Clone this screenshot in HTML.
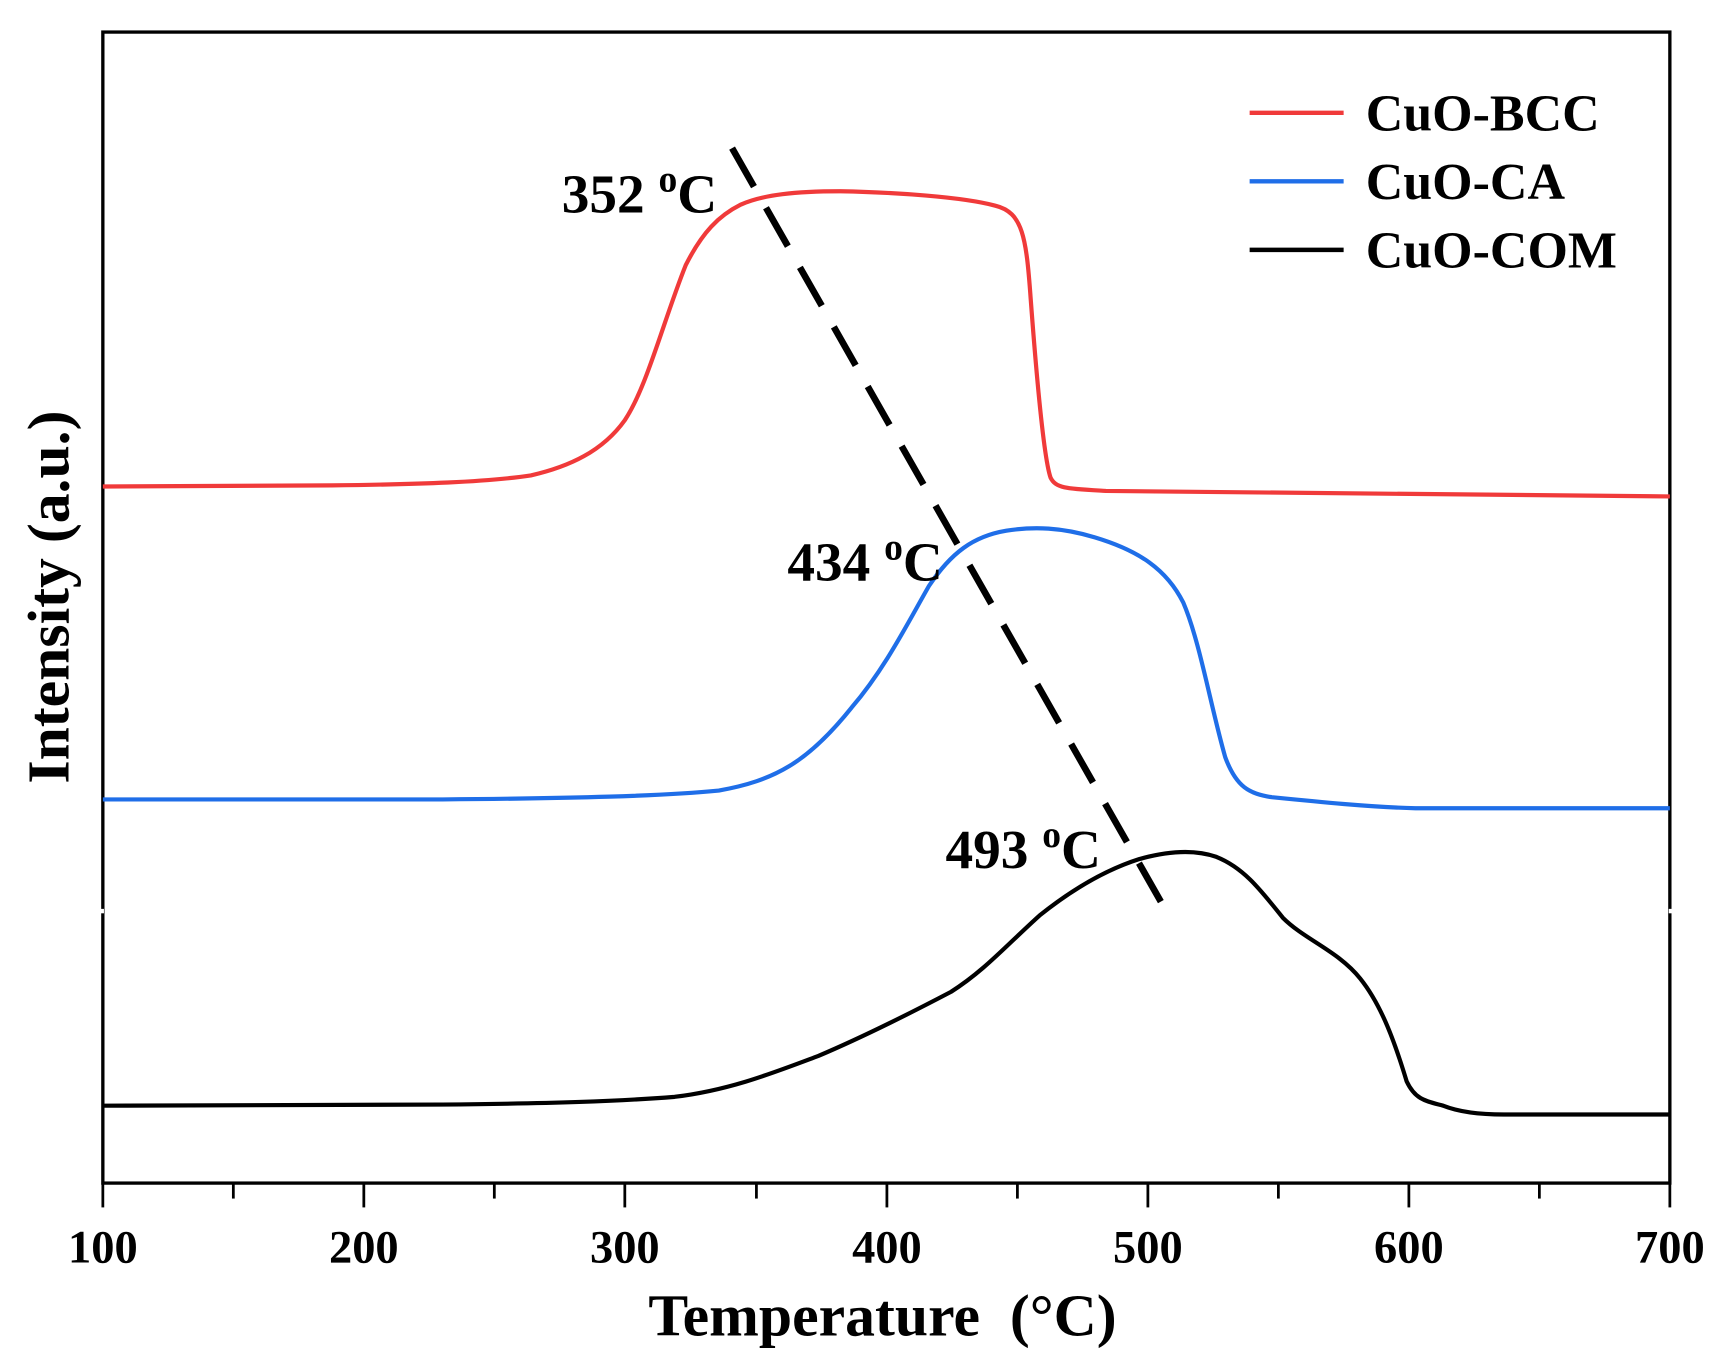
<!DOCTYPE html>
<html><head><meta charset="utf-8"><style>html,body{margin:0;padding:0;background:#fff}svg{display:block}</style></head>
<body>
<svg width="1734" height="1360" viewBox="0 0 1568 1230" preserveAspectRatio="none" xmlns="http://www.w3.org/2000/svg" font-family="'Liberation Serif',serif" font-weight="bold">
<rect width="1568" height="1230" fill="#fff"/>
<rect x="93" y="29" width="1417" height="1041" fill="none" stroke="#000" stroke-width="3"/>
<line x1="91" y1="822" x2="91" y2="826" stroke="#fff" stroke-width="6"/>
<line x1="1512" y1="822" x2="1512" y2="826" stroke="#fff" stroke-width="6"/>
<g stroke="#000" stroke-width="2.5">
<line x1="93" y1="1070" x2="93" y2="1092"/><line x1="211" y1="1070" x2="211" y2="1084"/>
<line x1="329" y1="1070" x2="329" y2="1092"/><line x1="447" y1="1070" x2="447" y2="1084"/>
<line x1="565" y1="1070" x2="565" y2="1092"/><line x1="684" y1="1070" x2="684" y2="1084"/>
<line x1="802" y1="1070" x2="802" y2="1092"/><line x1="920" y1="1070" x2="920" y2="1084"/>
<line x1="1038" y1="1070" x2="1038" y2="1092"/><line x1="1156" y1="1070" x2="1156" y2="1084"/>
<line x1="1274" y1="1070" x2="1274" y2="1092"/><line x1="1392" y1="1070" x2="1392" y2="1084"/>
<line x1="1510" y1="1070" x2="1510" y2="1092"/>
</g>
<g font-size="42" text-anchor="middle">
<text x="93" y="1142">100</text><text x="329" y="1142">200</text><text x="565" y="1142">300</text>
<text x="802" y="1142">400</text><text x="1038" y="1142">500</text><text x="1274" y="1142">600</text>
<text x="1510" y="1142">700</text>
</g>
<text x="798" y="1208" font-size="54" text-anchor="middle">Temperature&#160;&#160;(°C)</text>
<text transform="translate(62,540) rotate(-90)" font-size="54" text-anchor="middle">Intensity (a.u.)</text>
<g fill="none" stroke-width="3.8" stroke-linejoin="round">
<path stroke="#f03a3a" d="M93,440 L300,439 C380,438 440,436 480,430 C515,422 545,408 565,380 C585,350 600,290 620,240 C635,210 650,195 670,185 C690,176 720,173 760,173 C810,174 870,178 900,186 C925,192 928,215 932,270 C938,350 944,415 950,432 C955,442 965,442 1000,444 C1100,446 1200,446 1510,449"/>
<path stroke="#1f6ee8" d="M93,723 L400,723 C520,722 600,720 650,715 C700,706 730,690 770,640 C800,605 820,565 840,530 C860,500 880,485 910,480 C935,476 960,477 990,486 C1030,498 1055,515 1070,545 C1085,580 1095,640 1108,685 C1118,712 1130,718 1150,721 C1190,725 1240,730 1280,731 L1510,731"/>
<path stroke="#000" d="M93,1000 L400,999 C500,998 560,996 610,992 C660,986 700,970 740,955 C780,938 820,918 860,897 C890,878 910,855 940,828 C975,800 1005,785 1030,777 C1055,770 1080,768 1100,775 C1125,785 1140,805 1160,830 C1180,850 1210,860 1230,885 C1250,910 1262,945 1272,978 C1280,995 1290,996 1305,1000 C1320,1006 1340,1008 1360,1008 L1510,1008"/>
</g>
<line x1="662" y1="134" x2="1058" y2="830" stroke="#000" stroke-width="6" stroke-dasharray="40,22"/>
<g font-size="50">
<text x="508" y="192">352 <tspan font-size="34" dy="-19">o</tspan><tspan dy="19">C</tspan></text>
<text x="712" y="525">434 <tspan font-size="34" dy="-19">o</tspan><tspan dy="19">C</tspan></text>
<text x="855" y="785">493 <tspan font-size="34" dy="-19">o</tspan><tspan dy="19">C</tspan></text>
</g>
<g stroke-width="4">
<line x1="1130" y1="102" x2="1215" y2="102" stroke="#f03a3a"/>
<line x1="1130" y1="164" x2="1215" y2="164" stroke="#1f6ee8"/>
<line x1="1130" y1="226" x2="1215" y2="226" stroke="#000"/>
</g>
<g font-size="47">
<text x="1235" y="118">CuO-BCC</text>
<text x="1235" y="180">CuO-CA</text>
<text x="1235" y="242">CuO-COM</text>
</g>
</svg>
</body></html>
